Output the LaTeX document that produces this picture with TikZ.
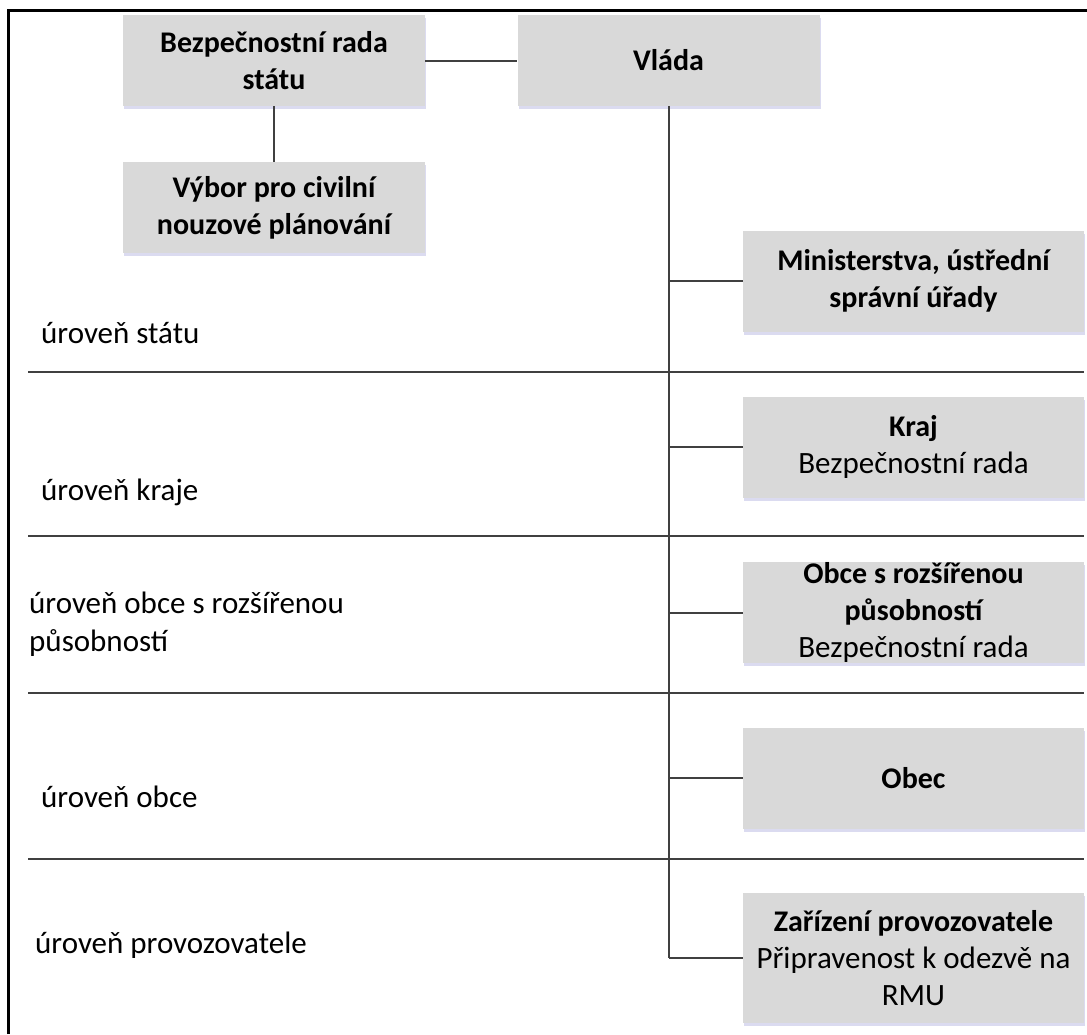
\documentclass[tikz,border=0pt]{standalone}
\usepackage{fontspec}
\setmainfont{Carlito}
\usetikzlibrary{shadows}

\definecolor{boxgray}{HTML}{D9D9D9}
\definecolor{linegray}{HTML}{404040}

\newcommand{\hd}[1]{{\fontsize{30}{37}\selectfont\bfseries #1}}

\begin{document}
\begin{tikzpicture}[x=1pt,y=-1pt,
  box/.style={fill=boxgray, align=center, inner sep=0pt,
    font=\fontsize{31}{37}\selectfont,
    drop shadow={shadow xshift=1pt, shadow yshift=-3pt, opacity=.2, fill=blue!40!gray}},
  topbox/.style={box, minimum width=302, minimum height=91},
  levelbox/.style={box, minimum width=341, minimum height=101},
  level/.style={anchor=west, align=left, inner sep=0pt,
    font=\fontsize{31}{38}\selectfont},
  conn/.style={linegray, line width=2pt},
  sep/.style={linegray, line width=2.5pt}]

  \useasboundingbox (0,0) rectangle (1087,1034);

  \draw[line width=3pt] (8,1034) -- (8,10) -- (1087,10);

  % upper part
  \node[topbox] (brs) at (274,60.5) {\hd{Bezpečnostní rada}\\\hd{státu}};
  \node[topbox] (vybor) at (274,207.5) {\hd{Výbor pro civilní}\\\hd{nouzové plánování}};
  \node[topbox] (vlada) at (668.5,60.5) {\hd{Vláda}};

  % levels
  \node[levelbox] (min) at (913.5,281) {\hd{Ministerstva, ústřední}\\\hd{správní úřady}};
  \node[levelbox] (kraj) at (913.5,447) {\hd{Kraj}\\Bezpečnostní rada};
  \node[levelbox] (orp) at (913.5,612.5) {\hd{Obce s rozšířenou}\\\hd{působností}\\Bezpečnostní rada};
  \node[levelbox] (obec) at (913.5,778) {\hd{Obec}};
  \node[levelbox, minimum height=130] (zar) at (913.5,958) {\hd{Zařízení provozovatele}\\Připravenost k odezvě na\\RMU};

  \foreach \y in {372,536,693,859}
    \draw[sep] (28,\y) -- (1084,\y);

  \node[level] (lstat) at (41,333) {úroveň státu};
  \node[level] (lkraj) at (41,492) {úroveň kraje};
  \node[level] (lorp) at (29,624) {úroveň obce s rozšířenou\\působností};
  \node[level] (lobec) at (41,797) {úroveň obce};
  \node[level] (lprov) at (35,945) {úroveň provozovatele};

  % connectors
  \draw[conn] (brs) -- (vybor);
  \draw[conn] (brs) -- (vlada);
  \draw[conn] (vlada.south) -- (vlada.south |- zar.west);
  \foreach \n in {min,kraj,orp,obec,zar}
    \draw[conn] (vlada.south |- \n.west) -- (\n.west);
\end{tikzpicture}
\end{document}
